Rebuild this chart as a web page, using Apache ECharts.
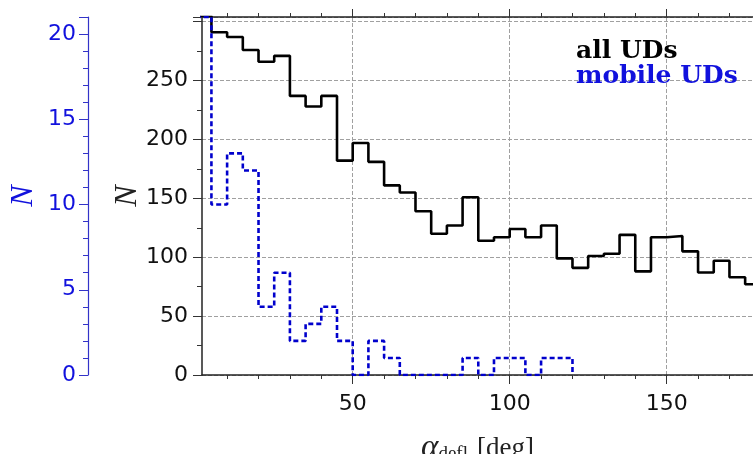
<!DOCTYPE html>
<html lang="en">

<head>
    <meta charset="UTF-8">
    <title>Deflection angle histogram</title>
    <style>
        html,
        body,
        #main {
            width: 753px;
            height: 454px;
            margin: 0;
            padding: 0;
            background-color: #fff;
        }
    </style>
    <script src="https://cdn.jsdelivr.net/npm/echarts@6/dist/echarts.min.js"></script>
</head>

<body>
    <div id="main"></div>
    <script>
        // bin edges of the histogram [deg]
        const binEdges = [0, 5, 10, 15, 20, 25, 30, 35, 40, 45, 50, 55, 60, 65, 70, 75, 80, 85, 90,
            95, 100, 105, 110, 115, 120, 125, 130, 135, 140, 145, 150, 155, 160, 165, 170, 175, 180];

        // counts per bin
        const allUDs = [305, 291, 287, 276, 266, 271, 237, 228, 237, 182, 197, 181, 161, 155, 139, 120, 127, 151,
            114, 117, 124, 117, 127, 99, 91, 101, 103, 119, 88, 117, 118, 105, 87, 97, 83, 77];
        const mobileUDs = [21, 10, 13, 12, 4, 6, 2, 3, 4, 2, 0, 2, 1, 0, 0, 0, 0, 1, 0, 1, 1, 0, 1, 1];

        // tick positions
        const xMajorTicks = [50, 100, 150];
        const xMinorTicks = [10, 20, 30, 40, 60, 70, 80, 90, 110, 120, 130, 140, 160, 170];
        const leftMinorTicks = [25, 75, 125, 175, 225, 275];
        const blueMinorTicks = [1, 2, 3, 4, 6, 7, 8, 9, 11, 12, 13, 14, 16, 17, 18, 19];

        const BLUE = '#1111dd';
        const GRIDCOL = '#a0a0a0';

        // turn bin counts into step points (one point per left edge + closing point)
        function stepPoints(values, closeToZero) {
            const pts = values.map((v, i) => [binEdges[i], v]);
            const last = values.length;
            pts.push([binEdges[last], closeToZero ? 0 : values[last - 1]]);
            return pts;
        }

        var chart = echarts.init(document.getElementById('main'), null, { renderer: 'canvas' });

        const xBase = {
            type: 'value',
            gridIndex: 0,
            min: 2,
            max: 177.5,
            splitNumber: 4,
            axisLine: { show: false, onZero: false },
            axisLabel: { show: false },
            splitLine: { show: false },
            axisTick: { show: false }
        };

        const yBase = {
            type: 'value',
            gridIndex: 0,
            position: 'left',
            axisLine: { show: false },
            axisLabel: { show: false },
            splitLine: { show: false },
            axisTick: { show: false }
        };

        var option = {
            animation: false,
            backgroundColor: '#fff',
            grid: {
                left: 202,
                right: 0,
                top: 17,
                bottom: 79,
                outerBoundsMode: 'none'
            },
            legend: {
                orient: 'vertical',
                left: 566,
                top: 34,
                icon: 'none',
                itemWidth: 0,
                itemGap: 0,
                selectedMode: false,
                textStyle: {
                    fontFamily: 'DejaVu Serif',
                    fontWeight: 'bold',
                    fontSize: 25,
                    lineHeight: 21
                },
                data: [
                    { name: 'all UDs', textStyle: { color: '#000' } },
                    { name: 'mobile UDs', textStyle: { color: BLUE } }
                ]
            },
            xAxis: [
                // bottom axis with labels and major ticks
                Object.assign({}, xBase, {
                    position: 'bottom',
                    axisLine: { show: true, onZero: false, lineStyle: { color: '#222', width: 1.5 } },
                    axisTick: { show: true, inside: false, length: 9, customValues: xMajorTicks, lineStyle: { color: '#333' } },
                    axisLabel: {
                        show: true,
                        margin: 18,
                        fontFamily: 'DejaVu Sans',
                        fontSize: 22,
                        color: '#111',
                        formatter: v => (v % 50 === 0 ? String(v) : '')
                    },
                    splitLine: { show: true, lineStyle: { color: GRIDCOL, type: [4, 2], width: 1 } },
                    name: '{a|α}{s|defl}{b|[deg]}',
                    nameLocation: 'middle',
                    nameGap: 57,
                    nameMoveOverlap: false,
                    nameTextStyle: {
                        rich: {
                            a: { fontFamily: 'Liberation Serif', fontStyle: 'italic', fontSize: 33, color: '#222' },
                            s: { fontFamily: 'Liberation Serif', fontSize: 19, color: '#222', padding: [12, 0, 0, 0] },
                            b: { fontFamily: 'Liberation Serif', fontSize: 27, color: '#222', padding: [0, 0, 0, 9] }
                        }
                    }
                }),
                // bottom minor ticks
                Object.assign({}, xBase, {
                    position: 'bottom',
                    axisTick: { show: true, inside: false, length: 4, customValues: xMinorTicks, lineStyle: { color: '#333' } }
                }),
                // top axis with major ticks
                Object.assign({}, xBase, {
                    position: 'top',
                    axisLine: { show: true, onZero: false, lineStyle: { color: '#222', width: 1.5 } },
                    axisTick: { show: true, inside: false, length: 8, customValues: xMajorTicks, lineStyle: { color: '#333' } }
                }),
                // top minor ticks
                Object.assign({}, xBase, {
                    position: 'top',
                    axisTick: { show: true, inside: false, length: 4, customValues: xMinorTicks, lineStyle: { color: '#333' } }
                })
            ],
            yAxis: [
                // black axis (all UDs)
                Object.assign({}, yBase, {
                    min: 0,
                    max: 304,
                    interval: 50,
                    axisLine: { show: true, lineStyle: { color: '#222', width: 1.5 } },
                    axisTick: { show: true, inside: false, length: 9, lineStyle: { color: '#333' } },
                    axisLabel: {
                        show: true,
                        margin: 14,
                        fontFamily: 'DejaVu Sans',
                        fontSize: 22,
                        color: '#111',
                        formatter: v => (v % 50 === 0 && v < 300 ? String(v) : '')
                    },
                    splitLine: { show: true, lineStyle: { color: GRIDCOL, type: [4, 2], width: 1 } },
                    name: 'N',
                    nameLocation: 'middle',
                    nameGap: 58,
                    nameMoveOverlap: false,
                    nameTextStyle: { fontFamily: 'Liberation Serif', fontStyle: 'italic', fontSize: 32, color: '#222' }
                }),
                Object.assign({}, yBase, {
                    min: 0,
                    max: 304,
                    axisTick: { show: true, inside: false, length: 5, customValues: leftMinorTicks, lineStyle: { color: '#333' } }
                }),
                // blue axis (mobile UDs)
                Object.assign({}, yBase, {
                    min: 0,
                    max: 21,
                    interval: 5,
                    offset: 114,
                    axisLine: { show: true, lineStyle: { color: '#3333c8', width: 1.2 } },
                    axisTick: { show: true, inside: false, length: 9, lineStyle: { color: '#3333c8' } },
                    axisLabel: {
                        show: true,
                        margin: 12,
                        fontFamily: 'DejaVu Sans',
                        fontSize: 22,
                        color: BLUE,
                        formatter: v => (v % 5 === 0 ? String(v) : '')
                    },
                    name: 'N',
                    nameLocation: 'middle',
                    nameGap: 48,
                    nameMoveOverlap: false,
                    nameTextStyle: { fontFamily: 'Liberation Serif', fontStyle: 'italic', fontSize: 32, color: BLUE }
                }),
                Object.assign({}, yBase, {
                    min: 0,
                    max: 21,
                    offset: 114,
                    axisTick: { show: true, inside: false, length: 5, customValues: blueMinorTicks, lineStyle: { color: '#3333c8' } }
                })
            ],
            series: [
                {
                    name: 'all UDs',
                    type: 'line',
                    step: 'end',
                    xAxisIndex: 0,
                    yAxisIndex: 0,
                    showSymbol: false,
                    clip: true,
                    color: '#000',
                    lineStyle: { color: '#000', width: 2.6 },
                    data: stepPoints(allUDs, false),
                    z: 3
                },
                {
                    name: 'mobile UDs',
                    type: 'line',
                    step: 'end',
                    xAxisIndex: 0,
                    yAxisIndex: 2,
                    showSymbol: false,
                    clip: true,
                    color: '#0000cc',
                    lineStyle: { color: '#0000cc', width: 2.6, type: [5, 3] },
                    data: stepPoints(mobileUDs, true),
                    z: 4
                }
            ]
        };

        chart.setOption(option);
    </script>
</body>

</html>
